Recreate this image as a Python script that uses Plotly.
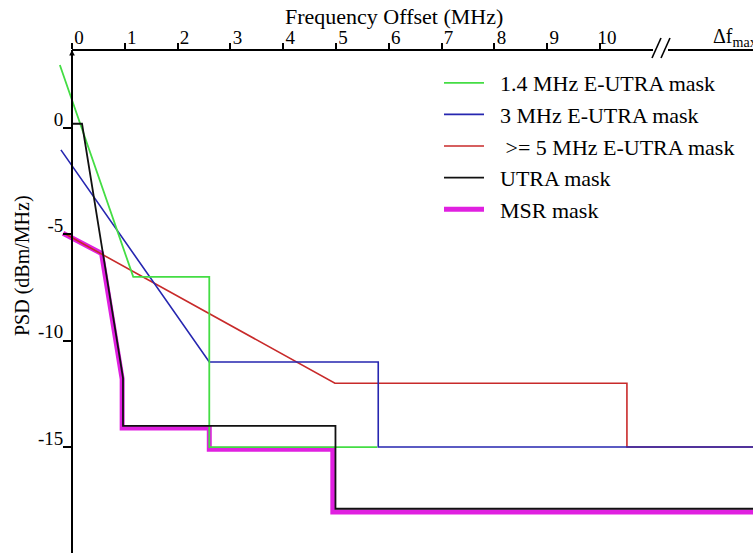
import plotly.graph_objects as go

# ---- data (MHz offset, dBm/MHz) ----
green_f = [-0.23, 1.16, 2.60, 2.60, 5.78]
green_d = [2.96, -7.0, -7.0, -15.0, -15.0]

blue_f = [-0.21, 2.60, 5.80, 5.80, 13.2]
blue_d = [-1.03, -11.0, -11.0, -15.0, -15.0]

red_f = [-0.15, 4.98, 10.51, 10.51, 13.2]
red_d = [-4.95, -12.0, -12.0, -15.0, -15.0]

black_f = [0.0, 0.19, 0.966, 0.966, 4.99, 4.99, 13.2]
black_d = [0.2, 0.2, -11.75, -14.0, -14.0, -17.9, -17.9]

msr_f = [-0.17, 0.56, 0.95, 0.95, 2.60, 2.60, 4.94, 4.94, 13.2]
msr_d = [-4.95, -5.9, -11.8, -14.1, -14.1, -15.1, -15.1, -18.05, -18.05]

x_ticks = list(range(0, 11))
x_ticktext = [str(v) for v in x_ticks]
y_ticks = [0, -5, -10, -15]
y_ticktext = ["0", "-5", "-10", "-15"]

NB = "\u00a0"
names = [NB * 2 + "1.4 MHz E-UTRA mask",
         NB * 2 + "3 MHz E-UTRA mask",
         NB * 3 + ">= 5 MHz E-UTRA mask",
         NB * 2 + "UTRA mask",
         NB * 2 + "MSR mask"]

W, H = 753, 553
TOP = 50
PX_PER_MHZ = 52.8
X0_PX = 72
X_RANGE = [-X0_PX / PX_PER_MHZ, (W - X0_PX) / PX_PER_MHZ]
PX_PER_DB = 21.27
Y0_PX = 128
Y_RANGE = [(Y0_PX - H) / PX_PER_DB, (Y0_PX - TOP) / PX_PER_DB]

def px_to_f(px):
    return (px - X0_PX) / PX_PER_MHZ

def py_to_paper(py):
    return (H - py) / (H - TOP)

FONT = "Liberation Serif"

fig = go.Figure()
# draw order: MSR bottom, then red, blue, green, black on top
fig.add_trace(go.Scatter(x=msr_f, y=msr_d, mode="lines", name=names[4],
                         line=dict(color="#e020e0", width=5), legendrank=5))
fig.add_trace(go.Scatter(x=red_f, y=red_d, mode="lines", name=names[2],
                         line=dict(color="#c82a2a", width=1.6), legendrank=3))
fig.add_trace(go.Scatter(x=blue_f, y=blue_d, mode="lines", name=names[1],
                         line=dict(color="#2626b0", width=1.6), legendrank=2))
fig.add_trace(go.Scatter(x=green_f, y=green_d, mode="lines", name=names[0],
                         line=dict(color="#44dd44", width=1.8), legendrank=1))
fig.add_trace(go.Scatter(x=black_f, y=black_d, mode="lines", name=names[3],
                         line=dict(color="#111111", width=1.8), legendrank=4))

# axis line (top) with a break
brk_l, brk_r = px_to_f(653), px_to_f(668)
shapes = [
    dict(type="line", xref="x", yref="paper", x0=0, x1=brk_l, y0=1, y1=1,
         line=dict(color="black", width=1.8)),
    dict(type="line", xref="x", yref="paper", x0=brk_r, x1=X_RANGE[1], y0=1, y1=1,
         line=dict(color="black", width=1.8)),
    dict(type="line", xref="x", yref="paper", x0=px_to_f(652), x1=px_to_f(661),
         y0=py_to_paper(58), y1=py_to_paper(38), line=dict(color="black", width=1.6)),
    dict(type="line", xref="x", yref="paper", x0=px_to_f(661), x1=px_to_f(670),
         y0=py_to_paper(58), y1=py_to_paper(38), line=dict(color="black", width=1.6)),
]

annotations = [
    dict(text="Frequency Offset (MHz)", xref="paper", yref="paper",
         x=394 / W, y=py_to_paper(17), xanchor="center", yanchor="middle",
         showarrow=False, font=dict(family=FONT, size=22, color="black")),
    dict(text="PSD (dBm/MHz)", xref="paper", yref="paper", textangle=-90,
         x=22 / W, y=py_to_paper(266), xanchor="center", yanchor="middle",
         showarrow=False, font=dict(family=FONT, size=20, color="black")),
    dict(text="Δf<sub>max</sub>", xref="paper", yref="paper", xanchor="left",
         yanchor="middle", x=711 / W, y=py_to_paper(38), showarrow=False,
         font=dict(family=FONT, size=20, color="black")),
    # small arrowhead at the top of the vertical axis
    dict(text="", xref="x", yref="paper", x=0, y=1, ax=0, ay=10,
         showarrow=True, arrowhead=2, arrowsize=0.7, arrowwidth=1.6,
         arrowcolor="black"),
]

fig.update_layout(
    width=W, height=H,
    margin=dict(l=0, r=0, t=TOP, b=0, pad=0),
    plot_bgcolor="white", paper_bgcolor="white",
    showlegend=True,
    legend=dict(x=439 / W, y=py_to_paper(62), xanchor="left", yanchor="top",
                bgcolor="rgba(0,0,0,0)", font=dict(family=FONT, size=22, color="black"),
                tracegroupgap=0, itemwidth=40),
    xaxis=dict(range=X_RANGE, side="top", showgrid=False, zeroline=False,
               showline=False, ticks="outside", ticklen=6, tickwidth=1.5,
               tickcolor="black", tickvals=x_ticks, ticktext=x_ticktext,
               ticklabelshift=7, ticklabelstandoff=-9,
               tickfont=dict(family=FONT, size=19, color="black"), automargin=False),
    yaxis=dict(range=Y_RANGE, anchor="free", position=X0_PX / W, showgrid=False,
               zeroline=False, showline=True, linecolor="black", linewidth=1.8,
               ticks="outside", ticklen=8, tickwidth=1.5, tickcolor="black",
               tickvals=y_ticks, ticktext=y_ticktext, ticklabelshift=-9,
               ticklabelstandoff=-4,
               tickfont=dict(family=FONT, size=19, color="black"), automargin=False),
    shapes=shapes,
    annotations=annotations,
)

fig.write_html("out.html", config={"displayModeBar": False},
               post_script="document.body.style.margin='0';document.body.style.overflow='hidden';")
